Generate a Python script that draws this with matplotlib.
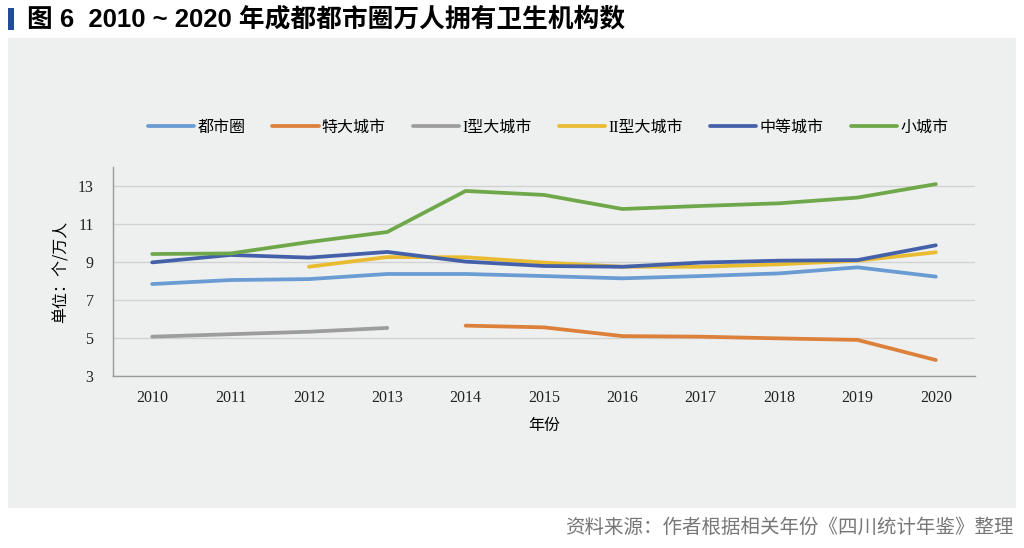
import matplotlib
matplotlib.use('Agg')
import matplotlib.pyplot as plt
import numpy as np
from matplotlib.patches import Rectangle

years = ['2010', '2011', '2012', '2013', '2014', '2015', '2016', '2017', '2018', '2019', '2020']
nan = np.nan
dushiquan = [7.84, 8.05, 8.1, 8.37, 8.37, 8.26, 8.14, 8.26, 8.4, 8.72, 8.23]
tedachengshi = [nan, nan, nan, nan, 5.65, 5.56, 5.1, 5.07, 4.98, 4.9, 3.84]
i_da = [5.07, 5.2, 5.33, 5.53, nan, nan, nan, nan, nan, nan, nan]
ii_da = [nan, nan, 8.75, 9.26, 9.25, 8.97, 8.75, 8.75, 8.88, 9.07, 9.51]
zhongdeng = [8.98, 9.37, 9.23, 9.53, 9.02, 8.79, 8.75, 8.97, 9.07, 9.1, 9.88]
xiao = [9.42, 9.45, 10.05, 10.58, 12.74, 12.53, 11.79, 11.95, 12.09, 12.39, 13.1]

names = ['都市圈', '特大城市', 'I型大城市', 'II型大城市', '中等城市', '小城市']
series = [dushiquan, tedachengshi, i_da, ii_da, zhongdeng, xiao]
colors = ['#6a9bd2', '#dc803a', '#9d9d9d', '#e9bb30', '#4460a8', '#6fa84a']

serif = ['Liberation Serif', 'Noto Sans CJK SC']
cjk = ['Noto Sans CJK SC', 'DejaVu Sans']

fig = plt.figure(figsize=(10.24, 5.48), dpi=100)
fig.patch.set_facecolor('white')

# grey panel behind the chart
fig.patches.append(Rectangle((8/1024, 1-508/548), 1008/1024, 470/548,
                             transform=fig.transFigure, facecolor='#eeefef',
                             edgecolor='none', zorder=-5))
# blue marker by the title
fig.patches.append(Rectangle((8/1024, 1-30/548), 6/1024, 22/548,
                             transform=fig.transFigure, facecolor='#1f4e96',
                             edgecolor='none', zorder=-5))

ax = fig.add_axes([113/1024, 1-376/548, 862/1024, 209/548])
ax.set_facecolor('none')
ax.set_zorder(2)

x = np.arange(len(years))
for name, vals, c in zip(names, series, colors):
    ax.plot(x, vals, color=c, lw=2.7, label=name, solid_capstyle='round')

ax.set_xlim(-0.5, len(years) - 0.5)
ax.set_ylim(3, 14)
ax.set_yticks([3, 5, 7, 9, 11, 13])
ax.set_xticks(x)
ax.set_xticklabels(years)
ax.grid(axis='y', color='#d2d2d2', lw=1)
ax.set_axisbelow(True)
ax.tick_params(length=0, labelsize=11.5, colors='#222222')
ax.tick_params(axis='x', pad=10)
ax.tick_params(axis='y', pad=14)
for lab in ax.get_xticklabels() + ax.get_yticklabels():
    lab.set_family(serif)
for s in ['top', 'right']:
    ax.spines[s].set_visible(False)
for s in ['left', 'bottom']:
    ax.spines[s].set_color('#9a9a9a')
    ax.spines[s].set_linewidth(1)

ax.set_xlabel('年份', family=cjk, fontsize=11.5, labelpad=8)
ax.set_ylabel('单位：个/万人', family=cjk, fontsize=11.5, labelpad=6)

leg = fig.legend(loc='center', bbox_to_anchor=(548/1024, 1-128/548), ncol=6,
                 frameon=False, prop={'family': serif, 'size': 11.5},
                 handlelength=2.9, handletextpad=0.2, columnspacing=1.7)
leg.set_zorder(3)

fig.text(27/1024, 1-19/548, '图 6  2010 ~ 2020 年成都都市圈万人拥有卫生机构数',
         family=['Liberation Sans', 'Noto Sans CJK SC'], fontsize=18.5,
         fontweight='bold', va='center', ha='left')
fig.text(1014/1024, 1-527/548, '资料来源：作者根据相关年份《四川统计年鉴》整理',
         family=cjk, fontsize=14, color='#777777', va='center', ha='right')

fig.savefig('out.png', dpi=100)
